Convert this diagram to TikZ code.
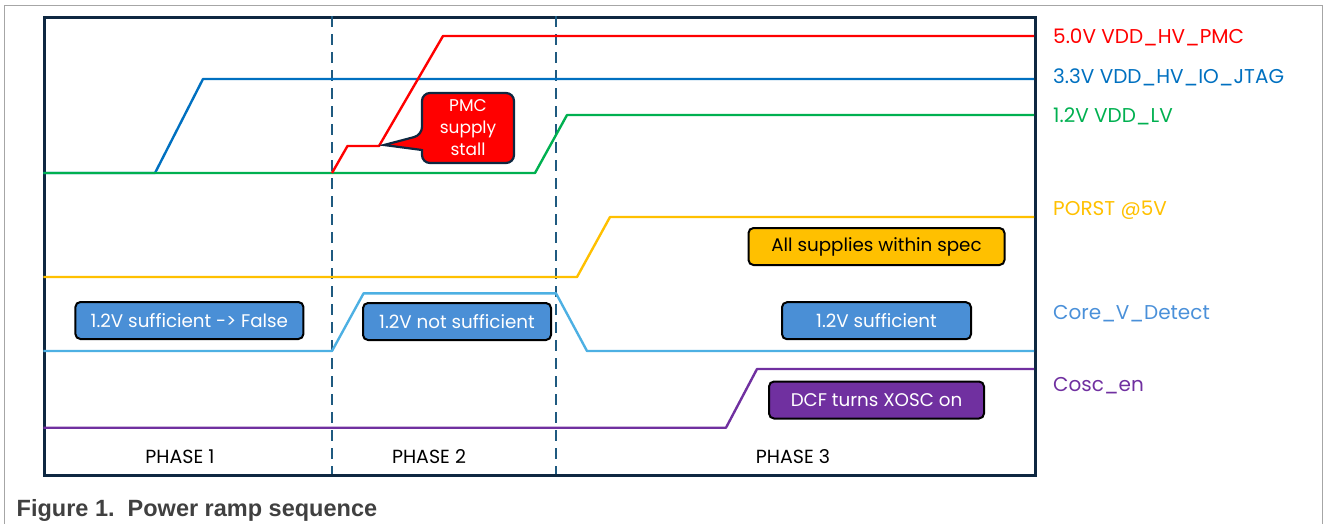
\documentclass[tikz,border=0pt]{standalone}
\usepackage{fontspec}
\setmainfont{Poppins}
\newfontfamily\capfont{Liberation Sans}
\definecolor{cRed}{HTML}{FF0000}
\definecolor{cBlue}{HTML}{0070C0}
\definecolor{cGreen}{HTML}{00B050}
\definecolor{cYellow}{HTML}{FFC000}
\definecolor{cCore}{HTML}{4DB0E3}
\definecolor{cCoreTxt}{HTML}{4A90D9}
\definecolor{cBox}{HTML}{4A8FD6}
\definecolor{cPurple}{HTML}{7030A0}
\definecolor{cFrame}{HTML}{0E2841}
\definecolor{cDash}{HTML}{1F5A80}
\definecolor{cGray}{HTML}{A6A6A6}
\definecolor{cCap}{HTML}{404040}
\begin{document}
\begin{tikzpicture}[x=1pt,y=-1pt,
  sig/.style={line width=2.4pt,line join=round},
  tag/.style={draw=black,line width=2pt,rounded corners=5pt,minimum height=37pt,inner sep=0pt,font=\fontsize{18.3}{20}\selectfont},
  sname/.style={anchor=west,font=\fontsize{20}{22}\selectfont,inner sep=0pt},
  phase/.style={font=\fontsize{19}{21}\selectfont,inner sep=0pt},
  sep/.style={cDash,line width=2pt,dash pattern=on 11pt off 7pt}]
\useasboundingbox (0,0) rectangle (1328,523);
% outer gray frame
\draw[cGray,line width=1pt] (4.6,540) -- (4.6,5.3) -- (1322,5.3) -- (1322,540);
% plot frame
\node[draw=cFrame,line width=2.6pt,minimum width=991pt,minimum height=458pt,inner sep=0pt,anchor=north west] (frame) at (43.3,16) {};
% phase separators
\coordinate (s1t) at (332,16); \coordinate (s1b) at (332,474);
\coordinate (s2t) at (556,16); \coordinate (s2b) at (556,474);
\draw[sep] (s1t) -- (s1b);
\draw[sep] (s2t) -- (s2b);
% signals
\draw[sig,cBlue] (43.3,173) -- (155,173) -- (203,79) -- (1034,79);
\draw[sig,cGreen] (43.3,173) -- (535,173) -- (567,115) -- (1034,115);
\draw[sig,cRed] (332,173) -- (347.5,146) -- (379,146) -- (443,36) -- (1034,36);
\draw[sig,cYellow] (43.3,277) -- (577,277) -- (610,217) -- (1034,217);
\draw[sig,cCore] (43.3,351) -- (332,351) -- (363.6,293.3) -- (556,293.3) -- (587,351) -- (1034,351);
\draw[sig,cPurple] (43.3,427.7) -- (726,427.7) -- (757,369) -- (1034,369);
% callout
\coordinate (tip) at (384,145);
\draw[fill=cRed,draw=cFrame,line width=2.2pt,rounded corners=8pt]
  (422,152) -- (422,163) -- (514,163) -- (514,93) -- (422,93) -- (422,135)
  [sharp corners] -- (tip) -- (422,150) [rounded corners=3pt] -- cycle;
\node[align=center,text=white,font=\fontsize{17}{22}\selectfont] (pmc) at (468,128) {PMC\\supply\\stall};
% boxes
\node[tag,fill=cYellow,text=black,minimum width=256pt] (spec) at (876.5,246.5) {All supplies within spec};
\node[tag,fill=cBox,text=white,minimum width=228pt] (f1) at (189.4,320.5) {1.2V sufficient -> False};
\node[tag,fill=cBox,text=white,minimum width=188pt] (f2) at (457,321.5) {1.2V not sufficient};
\node[tag,fill=cBox,text=white,minimum width=189pt] (f3) at (876.5,320.7) {1.2V sufficient};
\node[tag,fill=cPurple,text=white,minimum width=215pt] (dcf) at (876.5,400) {DCF turns XOSC on};
% signal names
\node[sname,text=cRed] (n1) at (1053,37) {5.0V VDD\_HV\_PMC};
\node[sname,text=cBlue] (n2) at (1053,77) {3.3V VDD\_HV\_IO\_JTAG};
\node[sname,text=cGreen] (n3) at (1053,116) {1.2V VDD\_LV};
\node[sname,text=cYellow] (n4) at (1053,210) {PORST @5V};
\node[sname,text=cCoreTxt] (n5) at (1053,314) {Core\_V\_Detect};
\node[sname,text=cPurple] (n6) at (1053,386) {Cosc\_en};
% phases
\node[phase] (p1) at (180,457) {PHASE 1};
\node[phase] (p2) at (429,457) {PHASE 2};
\node[phase] (p3) at (793,457) {PHASE 3};
% caption
\node[anchor=west,inner sep=0pt,text=cCap,font=\capfont\bfseries\fontsize{23.5}{26}\selectfont] (cap) at (16.5,510) {Figure 1.\ \ Power ramp sequence};
\end{tikzpicture}
\end{document}
